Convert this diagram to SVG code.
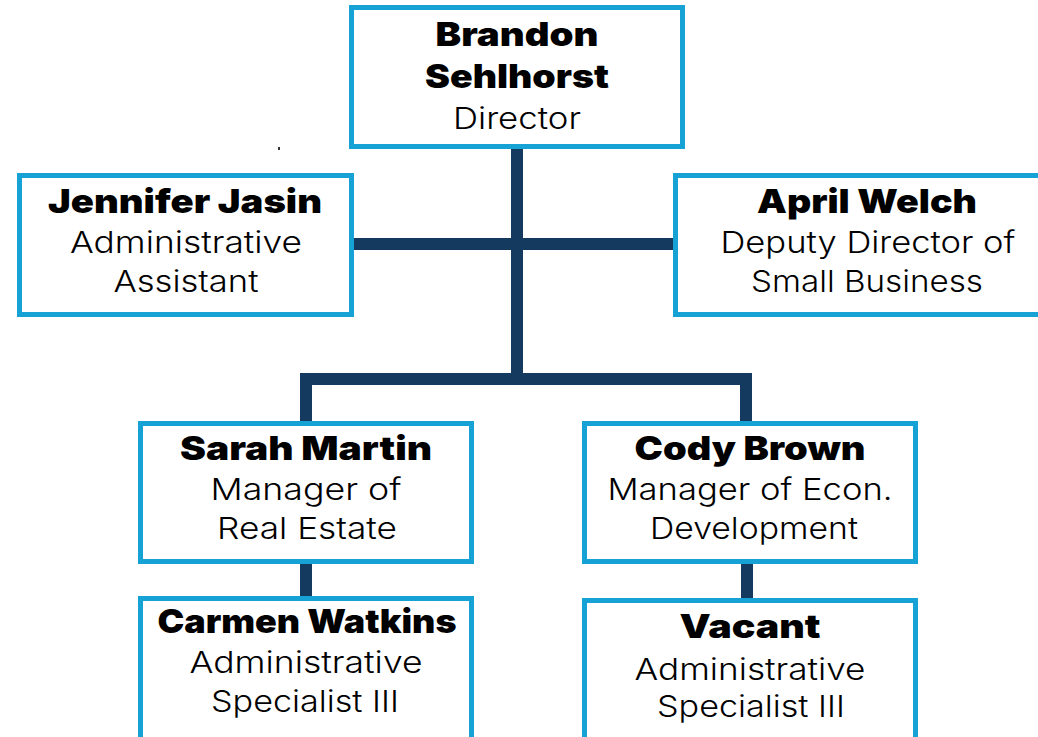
<svg xmlns="http://www.w3.org/2000/svg" width="1038" height="737" viewBox="0 0 1038 737">
<style>
.box{fill:#fff;stroke:#17a2d5;stroke-width:5}
.conn{stroke:#143b5f;stroke-width:12;fill:none;stroke-linecap:butt}
.name{font-family:Inter,"Liberation Sans",sans-serif;font-weight:900;font-size:33px;fill:#000;text-anchor:middle}
.role{font-family:Inter,"Liberation Sans",sans-serif;font-weight:300;font-size:30px;fill:#000;text-anchor:middle}
</style>
<rect width="1038" height="737" fill="#fff"/>
<g id="connectors">
<line class="conn" x1="517" y1="148" x2="517" y2="379"/>
<line class="conn" x1="354" y1="244" x2="674" y2="244"/>
<polyline class="conn" points="306,423 306,379 746,379 746,423"/>
<line class="conn" x1="306" y1="562" x2="306" y2="598"/>
<line class="conn" x1="747" y1="562" x2="747" y2="600"/>
</g>
<rect x="278" y="147" width="2" height="3" fill="#333"/>
<g id="brandon">
<rect class="box" x="351.5" y="7.5" width="331" height="139"/>
<text class="name" x="517" y="46" textLength="163" lengthAdjust="spacingAndGlyphs">Brandon</text>
<text class="name" x="517" y="88" textLength="184" lengthAdjust="spacingAndGlyphs">Sehlhorst</text>
<text class="role" x="517" y="129" textLength="128" lengthAdjust="spacingAndGlyphs">Director</text>
</g>
<g id="jennifer">
<rect class="box" x="19.5" y="175.5" width="332" height="139"/>
<text class="name" x="185" y="213" textLength="274" lengthAdjust="spacingAndGlyphs">Jennifer Jasin</text>
<text class="role" x="186" y="253" textLength="232" lengthAdjust="spacingAndGlyphs">Administrative</text>
<text class="role" x="186" y="292" textLength="145" lengthAdjust="spacingAndGlyphs">Assistant</text>
</g>
<g id="april">
<rect class="box" x="675.5" y="175.5" width="380" height="139"/>
<text class="name" x="867" y="213" textLength="220" lengthAdjust="spacingAndGlyphs">April Welch</text>
<text class="role" x="868" y="253" textLength="295" lengthAdjust="spacingAndGlyphs">Deputy Director of</text>
<text class="role" x="867" y="292" textLength="232" lengthAdjust="spacingAndGlyphs">Small Business</text>
</g>
<g id="sarah">
<rect class="box" x="140.5" y="423.5" width="331" height="138"/>
<text class="name" x="306" y="460" textLength="252" lengthAdjust="spacingAndGlyphs">Sarah Martin</text>
<text class="role" x="306" y="500" textLength="191" lengthAdjust="spacingAndGlyphs">Manager of</text>
<text class="role" x="307" y="539" textLength="180" lengthAdjust="spacingAndGlyphs">Real Estate</text>
</g>
<g id="cody">
<rect class="box" x="584.5" y="423.5" width="331" height="138"/>
<text class="name" x="750" y="460" textLength="231" lengthAdjust="spacingAndGlyphs">Cody Brown</text>
<text class="role" x="750" y="500" textLength="285" lengthAdjust="spacingAndGlyphs">Manager of Econ.</text>
<text class="role" x="754" y="539" textLength="208" lengthAdjust="spacingAndGlyphs">Development</text>
</g>
<g id="carmen">
<rect class="box" x="140.5" y="598.5" width="331" height="150"/>
<text class="name" x="307" y="633" textLength="299" lengthAdjust="spacingAndGlyphs">Carmen Watkins</text>
<text class="role" x="306" y="673" textLength="233" lengthAdjust="spacingAndGlyphs">Administrative</text>
<text class="role" x="305" y="712" textLength="188" lengthAdjust="spacingAndGlyphs">Specialist III</text>
</g>
<g id="vacant">
<rect class="box" x="584.5" y="600.5" width="331" height="150"/>
<text class="name" x="750" y="638" textLength="141" lengthAdjust="spacingAndGlyphs">Vacant</text>
<text class="role" x="750" y="680" textLength="231" lengthAdjust="spacingAndGlyphs">Administrative</text>
<text class="role" x="751" y="717" textLength="188" lengthAdjust="spacingAndGlyphs">Specialist III</text>
</g>
</svg>
